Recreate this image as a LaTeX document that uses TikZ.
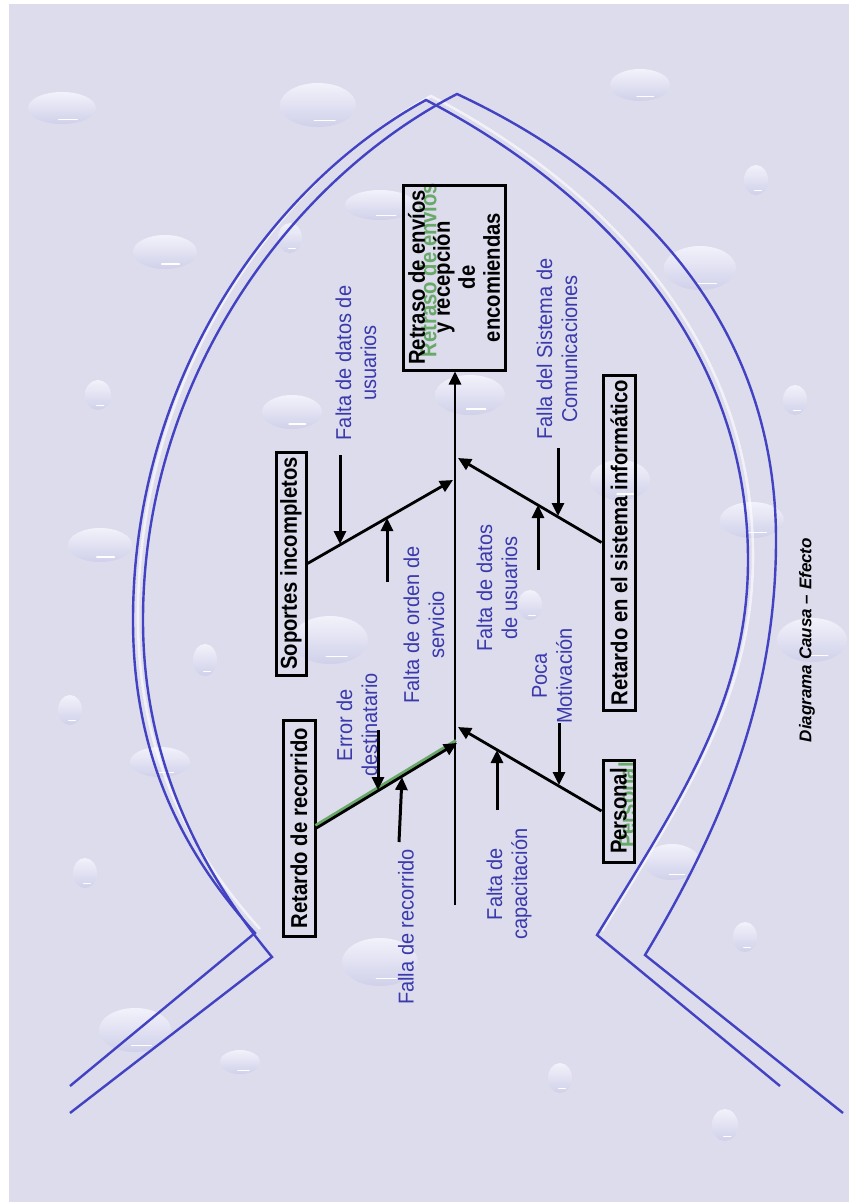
\documentclass[tikz,border=0pt]{standalone}
\usepackage{fontspec}
\setmainfont{Liberation Sans}
\newfontfamily\boxfont{Liberation Sans}[FakeStretch=0.88]
\newfontfamily\labfont{Liberation Sans}[FakeStretch=0.93]
\usetikzlibrary{arrows.meta,calc}
\definecolor{bg}{RGB}{220,220,236}
\definecolor{fish}{RGB}{66,66,194}
\definecolor{lbl}{RGB}{58,58,172}
\definecolor{ghostc}{RGB}{104,168,104}
\definecolor{dropin}{RGB}{242,242,251}
\definecolor{dropout}{RGB}{208,208,234}
\newcommand\wdrop[4]{%
  \shade[top color=dropin, bottom color=dropout] (#1,#2) ellipse [x radius=#3, y radius=#4];
  \draw[white, line width=1.3pt, line cap=round] ({#1-0.1*#3},{#2+0.7*#4}) -- ({#1+0.45*#3},{#2+0.7*#4});
}
\tikzset{
  fishline/.style={draw=fish, line width=2.4pt},
  conn/.style={draw=black, line width=2.8pt},
  arr/.style={conn, -{Triangle[length=13pt,width=12pt]}},
  subarr/.style={draw=black, line width=3pt, -{Triangle[length=13pt,width=12pt]}},
  cause/.style={draw=black, line width=3pt, rotate=90, font=\boxfont\bfseries\fontsize{23}{25}\selectfont, inner sep=0pt, align=center},
  ghost/.style={text=ghostc, rotate=90, font=\boxfont\bfseries\fontsize{23}{25}\selectfont, inner sep=0pt},
  lab/.style={text=lbl, rotate=90, font=\labfont\fontsize{21.5}{25}\selectfont, align=center, inner sep=0pt},
}
\begin{document}
\begin{tikzpicture}[x=1pt, y=-1pt]
\useasboundingbox (0,0) rectangle (849,1202);
\fill[white] (0,0) rectangle (849,1202);
\fill[bg] (9,4) rectangle (849,1202);
% droplets
\wdrop{62}{108}{34}{16}
\wdrop{318}{105}{38}{22}
\wdrop{640}{85}{30}{16}
\wdrop{756}{180}{12}{15}
\wdrop{165}{252}{32}{17}
\wdrop{290}{238}{12}{15}
\wdrop{700}{268}{36}{22}
\wdrop{98}{395}{13}{15}
\wdrop{292}{412}{30}{17}
\wdrop{470}{395}{35}{20}
\wdrop{380}{205}{35}{15}
\wdrop{620}{480}{30}{20}
\wdrop{795}{400}{12}{15}
\wdrop{752}{520}{32}{18}
\wdrop{812}{640}{35}{22}
\wdrop{100}{545}{32}{17}
\wdrop{205}{660}{12}{16}
\wdrop{330}{640}{38}{24}
\wdrop{70}{710}{12}{15}
\wdrop{530}{605}{12}{15}
\wdrop{160}{762}{30}{15}
\wdrop{672}{862}{28}{18}
\wdrop{85}{873}{12}{15}
\wdrop{380}{962}{38}{24}
\wdrop{745}{937}{12}{15}
\wdrop{135}{1030}{36}{22}
\wdrop{240}{1062}{20}{12}
\wdrop{560}{1078}{12}{15}
\wdrop{725}{1125}{13}{16}
% fish outline
\draw[white, opacity=0.6, line width=2.6pt, shift={(5,-4)}] (255,933) .. controls (185,855) and (133,760) .. (133,620) .. controls (133,380) and (270,185) .. (426,100) .. controls (580,180) and (748,330) .. (748,560) .. controls (748,700) and (680,800) .. (597,935);
\draw[fishline] (70,1086) -- (255,933) .. controls (185,855) and (133,760) .. (133,620) .. controls (133,380) and (270,185) .. (426,100) .. controls (580,180) and (748,330) .. (748,560) .. controls (748,700) and (680,800) .. (597,935) -- (780,1086);
\draw[fishline] (70,1113) -- (272,957) .. controls (200,870) and (143,760) .. (143,620) .. controls (143,380) and (290,180) .. (457,94) .. controls (620,170) and (776,310) .. (776,540) .. controls (776,700) and (720,830) .. (645,955) -- (843,1113);
% effect box
\node[ghost] at (428,270) {Retraso de envíos};
\node[cause, minimum width=185pt, minimum height=102pt] (effect) at (454,277.5) {Retraso de envíos\\y recepción\\de\\encomiendas};
% cause boxes
\node[cause, minimum width=223pt, minimum height=30pt] (soportes) at (291,563.5) {Soportes incompletos};
\node[cause, minimum width=216pt, minimum height=32pt] (recorrido) at (299,828) {Retardo de recorrido};
\node[cause, minimum width=335pt, minimum height=32pt] (sistema) at (619,542.5) {Retardo en el sistema informático};
\node[ghost] at (627,805) {Personal};
\node[cause, minimum width=102pt, minimum height=31pt] (personal) at (618.5,811) {Personal};
% spine
\coordinate (tail) at (455,905);
\draw[arr] (tail) -- (tail |- effect.west);
% junctions on spine
\coordinate (j1) at (453,480);
\coordinate (j2) at (458,458);
\coordinate (j3) at (457,743);
\coordinate (j4) at (458,727);
% main branches
\draw[arr] (soportes.south) -- (j1);
\draw[arr] (sistema.north) -- (j2);
\draw[ghostc, line width=3pt] ($(recorrido.south)+(-1,-2.5)$) -- ($(j3)+(-1,-2.5)$);
\draw[arr] (recorrido.south) -- (j3);
\draw[arr] (personal.north) -- (j4);
% sub causes: coordinates
\coordinate (a1s) at (340,455); \coordinate (a1e) at (340,544);
\coordinate (a2s) at (387,582); \coordinate (a2e) at (387,518);
\coordinate (b1s) at (378,730); \coordinate (b1e) at (378,790);
\coordinate (b2s) at (399,842); \coordinate (b2e) at (402,777);
\coordinate (c1s) at (558,448); \coordinate (c1e) at (558,516);
\coordinate (c2s) at (538,570); \coordinate (c2e) at (538,505);
\coordinate (d1s) at (559,723); \coordinate (d1e) at (559,785);
\coordinate (d2s) at (497,810); \coordinate (d2e) at (497,750);
\draw[subarr] (a1s) -- (a1e);
\draw[subarr] (a2s) -- (a2e);
\draw[subarr] (b1s) -- (b1e);
\draw[subarr] (b2s) -- (b2e);
\draw[subarr] (c1s) -- (c1e);
\draw[subarr] (c2s) -- (c2e);
\draw[subarr] (d1s) -- (d1e);
\draw[subarr] (d2s) -- (d2e);
% labels
\node[lab] (l1) at (356,363) {Falta de datos de\\usuarios};
\node[lab] (l2) at (424,625) {Falta de orden de\\servicio};
\node[lab] (l3) at (357,725) {Error de\\destinatario};
\node[lab] (l4) at (406,927) {Falla de recorrido};
\node[lab] (l5) at (557,349) {Falla del Sistema de\\Comunicaciones};
\node[lab] (l6) at (497,588) {Falta de datos\\de usuarios};
\node[lab] (l7) at (552,676) {Poca\\Motivación};
\node[lab] (l8) at (509,884) {Falta de\\capacitación};
% caption
\node[rotate=90, inner sep=0pt, font=\bfseries\itshape\fontsize{17}{20}\selectfont] (caption) at (807,640) {Diagrama Causa – Efecto};
\end{tikzpicture}
\end{document}
